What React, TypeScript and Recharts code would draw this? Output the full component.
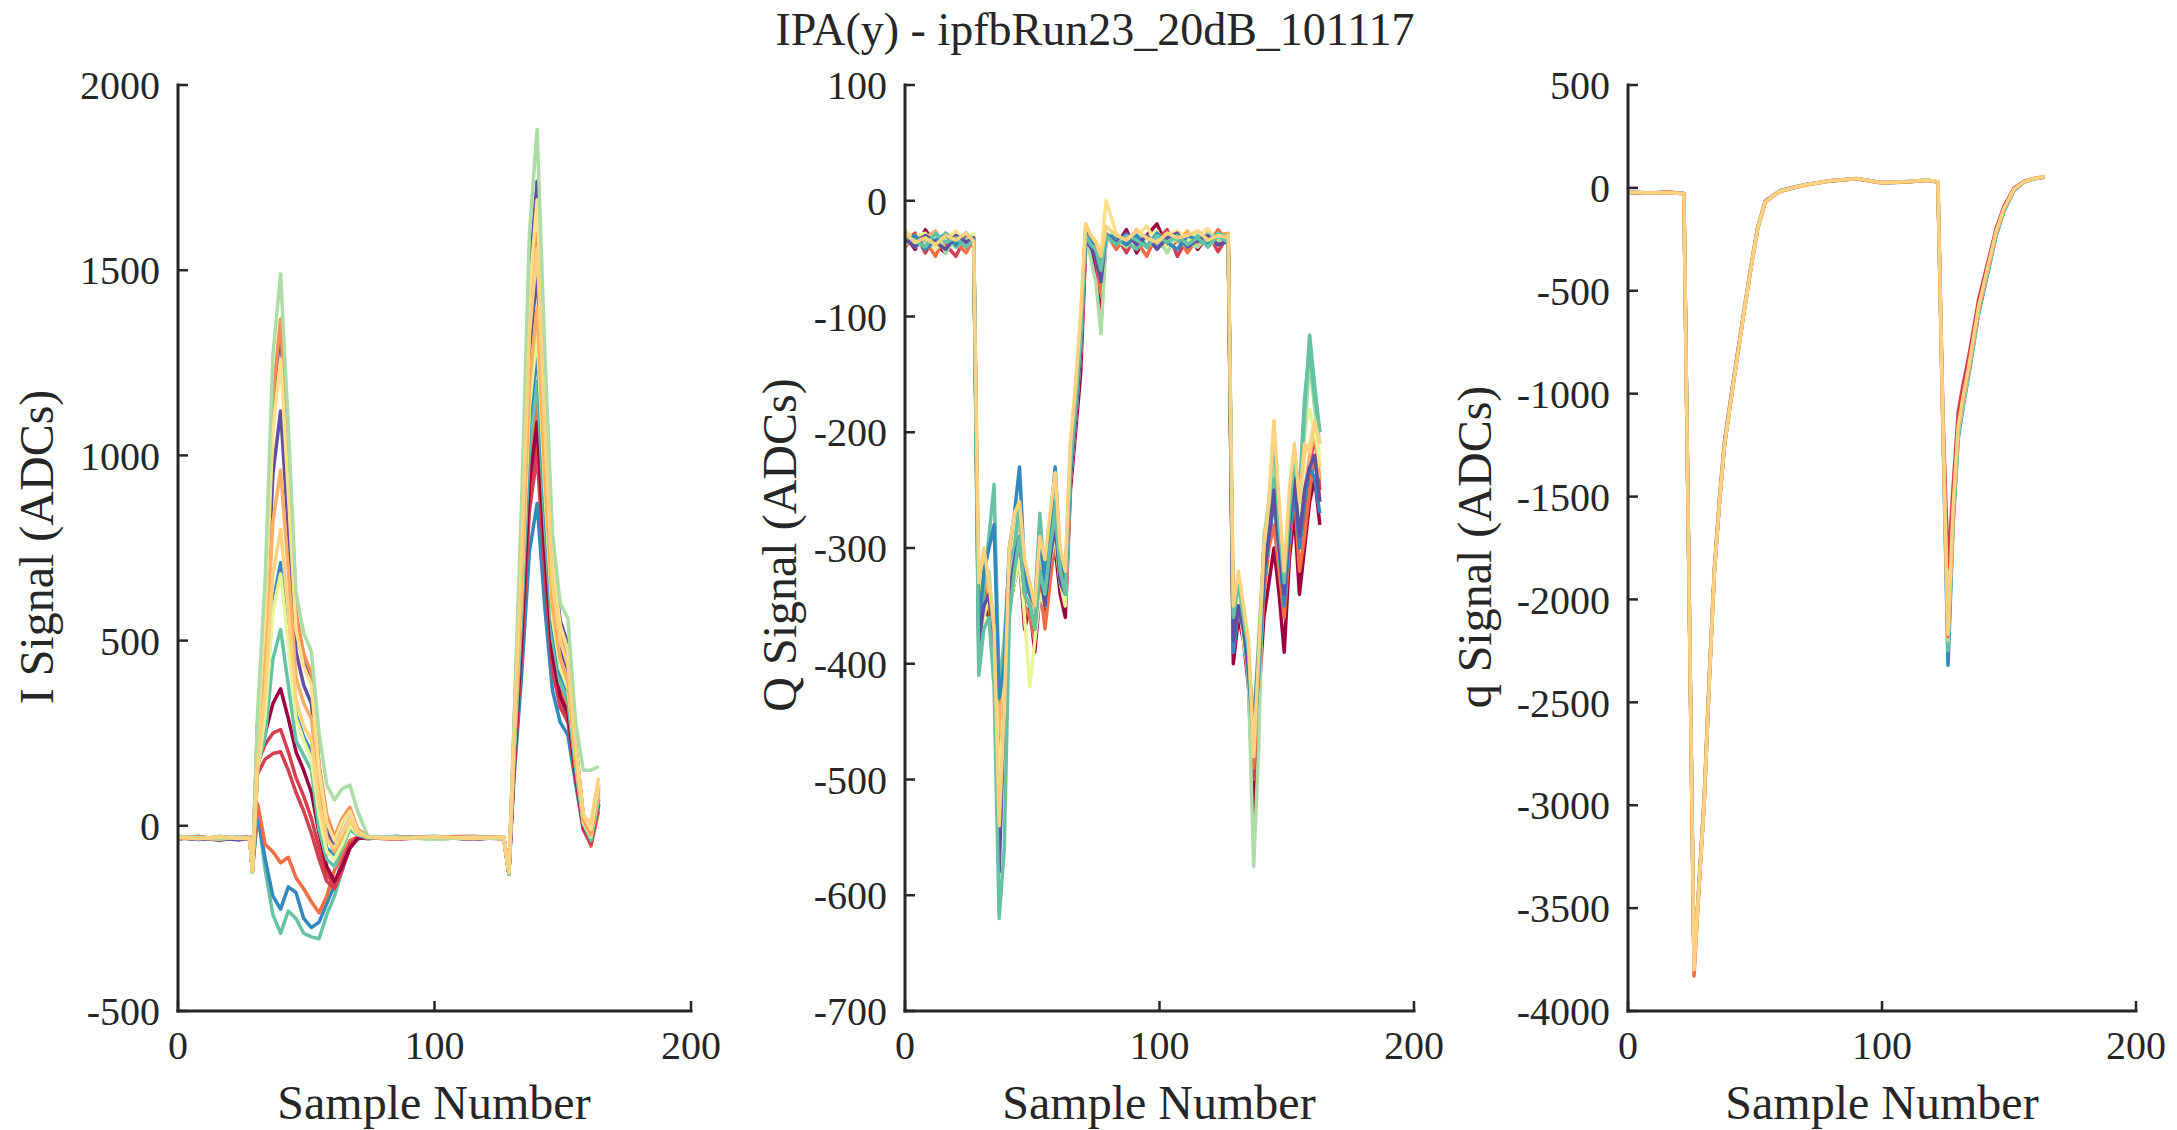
import React from "react";
import { LineChart, Line, XAxis, YAxis } from "recharts";

const iSamples = [0, 8, 16, 24, 28, 29, 31, 34, 37, 40, 43, 46, 49, 52, 55, 58, 61, 64, 67, 70, 74, 85, 100, 115, 127, 129, 131, 134, 137, 140, 143, 146, 149, 152, 155, 158, 161, 164];

const iTraces = [
  [-30, -38, -28, -35, -32, -125, 40, -120, -240, -290, -230, -250, -290, -300, -305, -240, -190, -120, -60, -35, -30, -32, -28, -35, -30, -128, 195, 610, 1105, 1300, 885, 545, 415, 365, 170, 10, -30, 90],
  [-35, -28, -40, -30, -36, -120, 30, -90, -190, -225, -165, -180, -250, -275, -260, -210, -160, -95, -50, -30, -35, -28, -36, -30, -34, -130, 130, 410, 740, 870, 590, 365, 280, 245, 115, -10, -50, 60],
  [-28, -34, -30, -38, -30, -118, 60, -50, -70, -100, -85, -140, -170, -205, -235, -190, -120, -80, -40, -30, -32, -35, -30, -28, -33, -125, 170, 540, 980, 1150, 780, 480, 370, 320, 150, 5, -55, 40],
  [-33, -30, -36, -32, -30, -121, 140, 180, 195, 200, 150, 90, 40, -20, -90, -150, -170, -120, -60, -30, -32, -36, -30, -34, -30, -127, 155, 495, 890, 1050, 715, 440, 335, 295, 135, -5, -45, 60],
  [-30, -34, -38, -30, -33, -120, 170, 220, 250, 260, 200, 130, 80, 20, -60, -130, -160, -100, -50, -32, -34, -30, -35, -30, -32, -126, 150, 470, 850, 1000, 680, 420, 320, 280, 130, -10, -50, 55],
  [-32, -36, -30, -34, -35, -122, 160, 250, 330, 370, 290, 200, 150, 90, -20, -110, -150, -110, -60, -35, -30, -33, -30, -36, -31, -130, 160, 510, 925, 1090, 740, 460, 350, 305, 140, 0, -40, 70],
  [-35, -30, -36, -30, -33, -125, 160, 240, 450, 530, 380, 230, 190, 150, -10, -90, -110, -60, -10, -25, -33, -30, -34, -31, -35, -128, 180, 565, 1020, 1200, 815, 505, 385, 335, 155, 5, -40, 70],
  [-33, -36, -30, -32, -30, -120, 160, 320, 600, 710, 510, 300, 240, 200, 40, -60, -80, -40, 0, -20, -32, -30, -34, -30, -33, -124, 190, 600, 1090, 1280, 870, 540, 410, 360, 165, 10, -30, 80],
  [-30, -35, -31, -36, -30, -118, 150, 300, 580, 680, 490, 290, 230, 180, 30, -70, -90, -50, 0, -22, -30, -32, -36, -30, -33, -122, 200, 625, 1130, 1330, 905, 560, 425, 370, 175, 10, -30, 85],
  [-30, -36, -32, -35, -34, -122, 225, 500, 950, 1120, 800, 470, 380, 330, 130, -10, -60, -20, 20, -15, -30, -34, -30, -36, -30, -126, 225, 705, 1275, 1500, 1020, 630, 480, 420, 195, 20, -20, 100],
  [-36, -30, -34, -38, -32, -125, 270, 600, 1140, 1340, 960, 560, 450, 400, 160, 20, -40, 10, 40, -10, -30, -35, -30, -34, -30, -128, 260, 820, 1480, 1740, 1180, 730, 555, 490, 225, 30, -10, 110],
  [-32, -30, -35, -31, -34, -120, 190, 430, 820, 960, 690, 400, 330, 290, 100, -30, -70, -30, 20, -20, -31, -35, -30, -33, -30, -125, 210, 660, 1190, 1400, 950, 590, 450, 390, 180, 15, -25, 95],
  [-34, -30, -36, -30, -32, -124, 275, 615, 1160, 1368, 980, 575, 465, 410, 165, 30, -30, 20, 50, -10, -30, -30, -34, -30, -36, -127, 240, 750, 1360, 1600, 1090, 670, 510, 450, 210, 25, -15, 105],
  [-30, -34, -30, -33, -35, -123, 250, 570, 1070, 1260, 900, 530, 430, 380, 150, 10, -40, 10, 40, -15, -30, -33, -30, -35, -30, -126, 255, 795, 1435, 1690, 1150, 710, 540, 475, 220, 30, -10, 110],
  [-28, -32, -36, -30, -34, -126, 300, 670, 1270, 1490, 1080, 630, 520, 470, 250, 110, 70, 100, 110, 40, -28, -30, -36, -30, -35, -130, 280, 885, 1600, 1880, 1280, 790, 600, 560, 280, 150, 150, 160],
  [-31, -35, -30, -34, -33, -122, 170, 360, 680, 800, 580, 340, 270, 230, 60, -40, -60, -20, 20, -18, -31, -34, -30, -33, -31, -125, 235, 735, 1325, 1560, 1060, 655, 500, 435, 205, 25, 10, 130],
];

const iColors = ["#66c2a5", "#3288bd", "#f46d43", "#d53e4f", "#d53e4f", "#9e0142", "#66c2a5", "#3288bd", "#e6f598", "#5e4fa2", "#5e4fa2", "#fdae61", "#f88d52", "#fee08b", "#abdda4", "#fdd27f"];

const qSamples = [0, 4, 8, 12, 16, 20, 24, 27, 29, 31, 33, 35, 37, 39, 41, 43, 45, 47, 49, 51, 53, 55, 57, 59, 61, 63, 65, 67, 69, 71, 73, 75, 77, 79, 83, 87, 91, 95, 99, 103, 107, 111, 115, 119, 123, 127, 129, 131, 133, 135, 137, 139, 141, 143, 145, 147, 149, 151, 153, 155, 157, 159, 161, 163];

const qTraces = [
  [-30, -42, -25, -38, -45, -28, -40, -35,
    -390, -350, -360, -400, -470, -420, -350, -330, -310, -370, -350, -390, -340, -360, -320, -300, -340, -360, -250, -200, -150, -40, -35, -60, -105, -30,
    -38, -25, -45, -30, -20, -40, -35, -28, -42, -30, -38, -35,
    -400, -360, -380, -420, -530, -430, -360, -330, -300, -340, -390, -310, -270, -340, -300, -260, -240, -280],
  [-35, -28, -45, -30, -38, -48, -30, -40,
    -360, -340, -330, -380, -450, -410, -330, -300, -290, -340, -330, -370, -320, -340, -300, -270, -330, -340, -230, -180, -120, -30, -40, -45, -70, -35,
    -30, -45, -28, -40, -35, -25, -48, -32, -38, -28, -44, -30,
    -380, -340, -370, -400, -500, -410, -330, -290, -260, -300, -350, -280, -240, -300, -270, -230, -200, -250],
  [-40, -30, -35, -48, -28, -36, -45, -32,
    -370, -330, -350, -390, -480, -430, -340, -310, -300, -350, -360, -380, -330, -370, -330, -290, -330, -350, -240, -190, -130, -35, -30, -50, -80, -28,
    -42, -30, -35, -48, -28, -40, -30, -45, -32, -38, -25, -36,
    -390, -350, -370, -410, -490, -420, -340, -300, -280, -320, -360, -300, -250, -320, -290, -250, -220, -260],
  [-28, -38, -32, -26, -42, -35, -28, -38,
    -350, -320, -340, -370, -460, -400, -320, -290, -280, -330, -340, -360, -310, -330, -290, -260, -320, -330, -220, -170, -110, -25, -38, -40, -55, -30,
    -30, -38, -25, -40, -34, -30, -36, -26, -40, -32, -30, -28,
    -370, -340, -360, -390, -480, -400, -320, -280, -250, -290, -340, -280, -230, -290, -250, -220, -200, -240],
  [-25, -35, -40, -30, -34, -26, -38, -30,
    -340, -310, -330, -360, -520, -420, -310, -290, -270, -320, -330, -350, -300, -320, -280, -240, -310, -320, -210, -160, -100, -20, -30, -35, -45, 0,
    -28, -35, -30, -22, -38, -30, -26, -34, -30, -24, -36, -30,
    -360, -330, -350, -390, -470, -380, -310, -270, -210, -280, -330, -260, -220, -270, -220, -210, -190, -230],
  [-38, -30, -28, -42, -32, -40, -34, -28,
    -380, -360, -340, -390, -500, -440, -350, -330, -310, -360, -420, -380, -340, -350, -310, -290, -330, -350, -240, -190, -130, -30, -42, -38, -60, -32,
    -36, -30, -40, -32, -26, -42, -30, -36, -28, -40, -32, -34,
    -370, -340, -380, -410, -460, -390, -300, -260, -190, -300, -340, -270, -220, -280, -200, -180, -200, -220],
  [-30, -40, -36, -28, -45, -30, -38, -33,
    -360, -330, -320, -380, -560, -450, -330, -300, -270, -320, -330, -360, -300, -330, -290, -250, -320, -330, -220, -170, -110, -30, -50, -70, -115, -35,
    -34, -40, -28, -38, -32, -45, -30, -36, -40, -28, -34, -38,
    -350, -330, -360, -420, -575, -470, -290, -260, -220, -290, -330, -260, -230, -260, -200, -140, -180, -210],
  [-32, -38, -30, -35, -28, -40, -34, -36,
    -400, -330, -290, -245, -420, -380, -310, -300, -260, -330, -340, -350, -270, -330, -290, -260, -310, -330, -230, -180, -120, -30, -35, -45, -65, -30,
    -30, -36, -42, -30, -38, -28, -34, -40, -30, -36, -28, -32,
    -380, -350, -370, -400, -450, -380, -300, -280, -240, -310, -340, -280, -230, -260, -180, -116, -160, -200],
  [-36, -30, -42, -34, -30, -38, -28, -35,
    -370, -320, -300, -280, -430, -400, -300, -270, -230, -320, -340, -350, -290, -330, -280, -230, -310, -330, -220, -170, -120, -25, -35, -40, -55, -30,
    -32, -38, -30, -40, -28, -36, -42, -30, -34, -38, -30, -36,
    -390, -350, -370, -410, -470, -410, -330, -290, -260, -300, -350, -290, -250, -300, -260, -230, -240, -270],
  [-33, -40, -30, -36, -42, -30, -36, -32,
    -380, -350, -340, -390, -580, -440, -340, -310, -290, -340, -350, -370, -320, -350, -310, -280, -330, -340, -240, -190, -130, -35, -40, -50, -70, -30,
    -36, -28, -38, -30, -42, -32, -28, -40, -34, -30, -38, -35,
    -380, -350, -370, -400, -460, -390, -320, -290, -250, -300, -340, -280, -240, -290, -250, -230, -220, -260],
  [-30, -35, -40, -28, -36, -32, -40, -34,
    -410, -370, -360, -420, -620, -560, -360, -320, -290, -340, -350, -370, -320, -340, -300, -270, -320, -340, -230, -180, -120, -30, -38, -42, -60, -30,
    -38, -30, -34, -40, -30, -36, -30, -38, -32, -40, -30, -36,
    -360, -330, -360, -390, -470, -400, -300, -260, -200, -280, -330, -270, -220, -250, -170, -130, -170, -200],
  [-28, -36, -32, -38, -30, -34, -28, -35,
    -330, -300, -330, -370, -540, -440, -300, -270, -260, -310, -330, -350, -290, -310, -270, -235, -300, -320, -210, -160, -100, -20, -30, -36, -48, -22,
    -30, -34, -26, -32, -36, -28, -32, -30, -26, -34, -30, -32,
    -350, -320, -350, -380, -480, -390, -300, -260, -190, -260, -320, -250, -210, -260, -210, -217, -190, -210],
];

const qColors = ["#9e0142", "#d53e4f", "#f46d43", "#fdae61", "#fee08b", "#e6f598", "#abdda4", "#66c2a5", "#3288bd", "#5e4fa2", "#66c2a5", "#fdd27f"];

const smallQSamples = [0, 8, 16, 22, 24, 26, 28, 30, 32, 34, 36, 38, 41, 45, 48, 51, 54, 57, 60, 65, 70, 80, 90, 100, 110, 118, 122, 124, 126, 128, 130, 132, 134, 136, 138, 141, 145, 148, 152, 156, 160, 164];

const smallQTraces = [
  [-22, -26, -20, -27, -1880, -3770, -3370, -2960, -2370, -1850, -1510, -1230, -975, -650, -410, -195, -65, -38, -12, 2, 17, 36, 44, 26, 31, 37, 28, -1100, -1850, -1450, -1090, -950, -830, -690, -545, -395, -195, -90, 0, 32, 46, 52],
  [-21, -24, -23, -27, -1910, -3790, -3380, -2980, -2390, -1865, -1525, -1245, -985, -655, -418, -198, -68, -40, -14, 1, 16, 34, 46, 24, 29, 39, 29, -1180, -2320, -1640, -1220, -1060, -920, -770, -615, -450, -230, -115, -12, 28, 44, 54],
  [-20, -26, -22, -28, -1900, -3760, -3380, -2985, -2395, -1868, -1528, -1248, -988, -658, -419, -199, -69, -40, -15, 0, 15, 35, 45, 25, 30, 38, 30, -1170, -2250, -1610, -1205, -1050, -910, -760, -605, -440, -225, -110, -10, 29, 44, 54],
  [-20, -25, -22, -28, -1900, -3730, -3380, -2985, -2395, -1868, -1528, -1248, -988, -658, -419, -199, -69, -40, -15, 0, 15, 35, 45, 25, 30, 38, 30, -1160, -2200, -1590, -1190, -1040, -900, -750, -598, -432, -220, -106, -8, 30, 45, 55],
  [-21, -25, -21, -28, -1905, -3830, -3395, -2990, -2400, -1872, -1532, -1252, -992, -662, -421, -201, -70, -41, -16, -1, 14, 34, 44, 24, 29, 37, 29, -1160, -2180, -1570, -1170, -1020, -890, -740, -590, -426, -214, -103, -6, 30, 45, 55],
  [-20, -25, -22, -28, -1900, -3800, -3390, -2990, -2400, -1870, -1530, -1250, -990, -660, -420, -200, -70, -40, -15, 0, 15, 35, 45, 25, 30, 38, 30, -1150, -2170, -1560, -1160, -1010, -880, -730, -580, -420, -210, -100, -5, 30, 45, 55],
];

const smallQColors = ["#d53e4f", "#3288bd", "#66c2a5", "#abdda4", "#f46d43", "#fdd27f"];

const iTicks = [-500, 0, 500, 1000, 1500, 2000];
const qTicks = [-700, -600, -500, -400, -300, -200, -100, 0, 100];
const smallQTicks = [-4000, -3500, -3000, -2500, -2000, -1500, -1000, -500, 0, 500];
const xTicks = [0, 100, 200];

const PLOT_TOP = 85;
const PLOT_BOTTOM = 1011;
const Y_W = 150;
const X_H = 80;
const RIGHT_PAD = 40;
const INK = "#262626";

function Panel({ left, right, samples, traces, colors, ticks }) {
  const data = samples.map((x, i) => {
    const row = { x };
    traces.forEach((t, k) => {
      row["s" + k] = t[i];
    });
    return row;
  });
  const axisLine = { stroke: INK, strokeWidth: 3, strokeLinecap: "square" };
  const tickLine = { stroke: INK, strokeWidth: 2.5 };
  const tick = { fontSize: 40, fill: INK };
  return (
    <div style={{ position: "absolute", left: left - Y_W, top: 0 }}>
      <LineChart
        width={Y_W + (right - left) + RIGHT_PAD}
        height={PLOT_BOTTOM + X_H}
        data={data}
        margin={{ top: PLOT_TOP, right: RIGHT_PAD, left: 0, bottom: 0 }}
      >
        <XAxis
          dataKey="x"
          type="number"
          domain={[0, 200]}
          ticks={xTicks}
          interval={0}
          height={X_H}
          tickSize={-10}
          tickMargin={30}
          axisLine={axisLine}
          tickLine={tickLine}
          tick={tick}
        />
        <YAxis
          type="number"
          domain={[ticks[0], ticks[ticks.length - 1]]}
          ticks={ticks}
          interval={0}
          width={Y_W}
          tickSize={-10}
          tickMargin={28}
          axisLine={axisLine}
          tickLine={tickLine}
          tick={tick}
        />
        {traces.map((_, k) => (
          <Line
            key={k}
            type="linear"
            dataKey={"s" + k}
            stroke={colors[k]}
            strokeWidth={3.5}
            strokeLinejoin="round"
            dot={false}
            isAnimationActive={false}
          />
        ))}
      </LineChart>
    </div>
  );
}

const textBase = {
  position: "absolute",
  whiteSpace: "nowrap",
  color: INK,
  lineHeight: 0.9,
};

function Label({ x, y, size, rotate, children }) {
  return (
    <div
      style={{
        ...textBase,
        left: x,
        top: y,
        fontSize: size,
        transform: `translate(-50%, -50%)${rotate ? " rotate(-90deg)" : ""}`,
      }}
    >
      {children}
    </div>
  );
}

export default function App() {
  return (
    <div
      style={{
        position: "absolute",
        left: 0,
        top: 0,
        width: 2177,
        height: 1130,
        background: "#fff",
        fontFamily: '"Liberation Serif", "Times New Roman", serif',
        overflow: "hidden",
      }}
    >
      <Label x={1095} y={30} size={46}>IPA(y) - ipfbRun23_20dB_101117</Label>

      <Panel left={178} right={691} samples={iSamples} traces={iTraces} colors={iColors} ticks={iTicks} />
      <Panel left={905} right={1414} samples={qSamples} traces={qTraces} colors={qColors} ticks={qTicks} />
      <Panel left={1628} right={2136} samples={smallQSamples} traces={smallQTraces} colors={smallQColors} ticks={smallQTicks} />

      <Label x={37} y={547} size={48} rotate>I Signal (ADCs)</Label>
      <Label x={780} y={545} size={48} rotate>Q Signal (ADCs)</Label>
      <Label x={1475} y={547} size={48} rotate>q Signal (ADCs)</Label>

      <Label x={434} y={1103} size={48}>Sample Number</Label>
      <Label x={1159} y={1103} size={48}>Sample Number</Label>
      <Label x={1882} y={1103} size={48}>Sample Number</Label>
    </div>
  );
}
